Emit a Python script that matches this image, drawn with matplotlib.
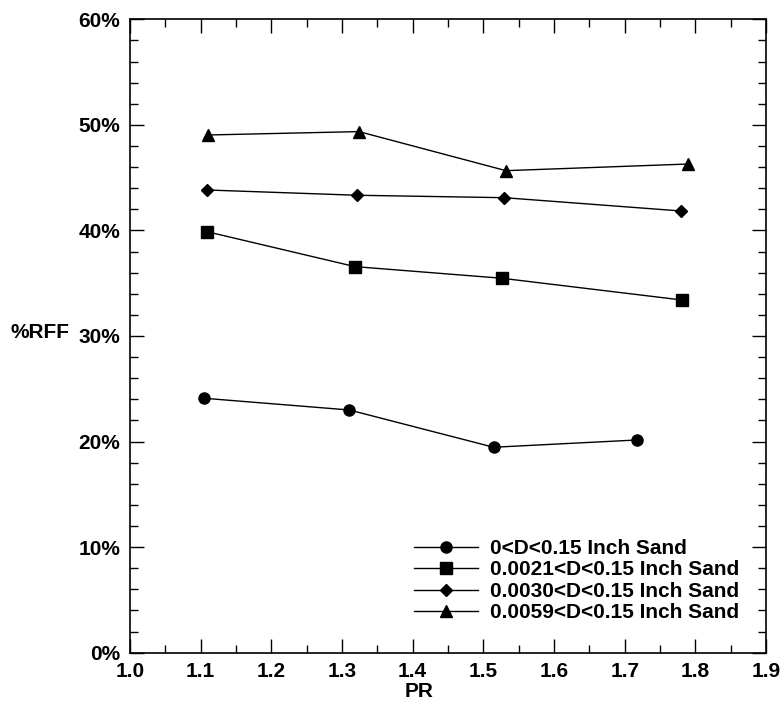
import matplotlib
matplotlib.use("Agg")
import matplotlib.pyplot as plt
from matplotlib.ticker import MultipleLocator, FuncFormatter

plt.rcParams['font.family'] = ['Liberation Sans', 'DejaVu Sans']
plt.rcParams['font.weight'] = 'bold'

# Pressure ratio (PR) and %RFF for each sand size range
pr_all = [1.105, 1.3105, 1.5146, 1.7177]
rff_all = [24.10, 22.99, 19.46, 20.15]

pr_0021 = [1.109, 1.3184, 1.526, 1.781]
rff_0021 = [39.88, 36.57, 35.47, 33.41]

pr_0030 = [1.109, 1.3212, 1.5297, 1.780]
rff_0030 = [43.83, 43.33, 43.10, 41.84]

pr_0059 = [1.111, 1.324, 1.532, 1.790]
rff_0059 = [49.04, 49.36, 45.66, 46.29]

labels = ["0<D<0.15 Inch Sand", "0.0021<D<0.15 Inch Sand",
          "0.0030<D<0.15 Inch Sand", "0.0059<D<0.15 Inch Sand"]

FS = 15

fig = plt.figure(figsize=(7.84, 7.06), dpi=100)
ax = fig.add_axes([0.1658, 0.0755, 0.977 - 0.1658, 0.9727 - 0.0755])

ax.plot(pr_all, rff_all, '-o', color='black', lw=1, ms=8, label=labels[0])
ax.plot(pr_0021, rff_0021, '-s', color='black', lw=1, ms=8.5, label=labels[1])
ax.plot(pr_0030, rff_0030, '-D', color='black', lw=1, ms=6, label=labels[2])
ax.plot(pr_0059, rff_0059, '-^', color='black', lw=1, ms=8.5, label=labels[3])

ax.set_xlim(1.0, 1.9)
ax.set_ylim(0, 60)
ax.xaxis.set_major_locator(MultipleLocator(0.1))
ax.xaxis.set_minor_locator(MultipleLocator(0.05))
ax.yaxis.set_major_locator(MultipleLocator(10))
ax.yaxis.set_minor_locator(MultipleLocator(2))
ax.xaxis.set_major_formatter(FuncFormatter(lambda v, p: f"{v:.1f}"))
ax.yaxis.set_major_formatter(FuncFormatter(lambda v, p: f"{v:.0f}%"))

ax.tick_params(which='both', direction='in', top=True, right=True, width=1)
ax.tick_params(which='major', length=10, labelsize=FS, pad=7)
ax.tick_params(which='minor', length=6)
for lab in ax.get_xticklabels() + ax.get_yticklabels():
    lab.set_fontweight('bold')
for s in ax.spines.values():
    s.set_linewidth(1.2)

ax.set_xlabel("PR", fontsize=FS, fontweight='bold')
ax.xaxis.set_label_coords(0.454, -0.047)
ax.text(-0.1415, 0.505, "%RFF", transform=ax.transAxes, fontsize=FS,
        fontweight='bold', ha='center', va='center')

leg = ax.legend(loc='lower right', bbox_to_anchor=(0.971, 0.035), frameon=False,
                fontsize=FS, handlelength=3.1, handletextpad=0.55,
                labelspacing=0.115, borderaxespad=0.0)
for t in leg.get_texts():
    t.set_fontweight('bold')

fig.savefig("out.png", dpi=100)
